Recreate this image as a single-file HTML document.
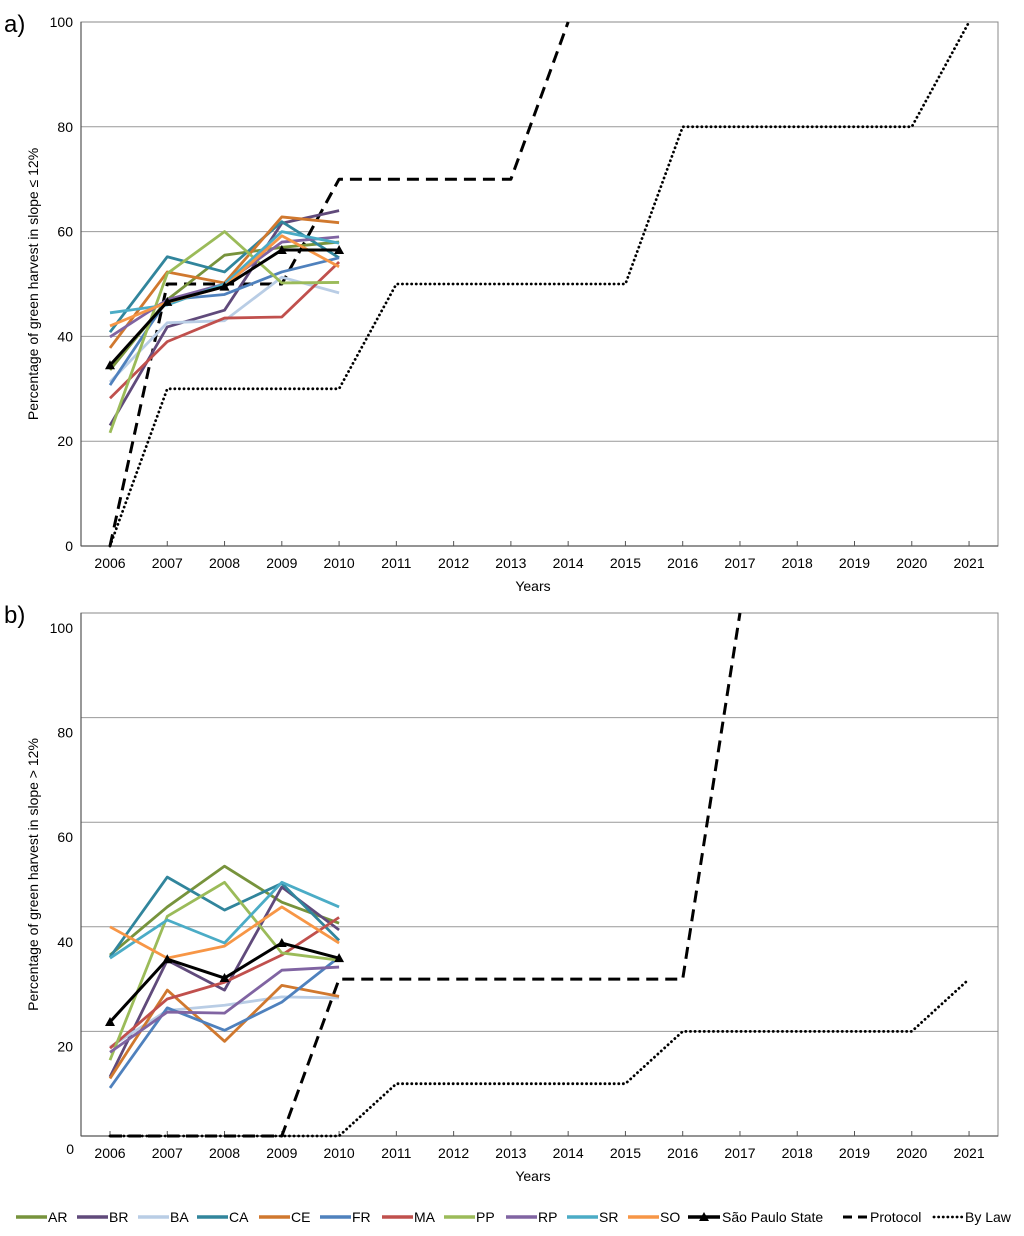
<!DOCTYPE html>
<html><head><meta charset="utf-8"><style>
html,body{margin:0;padding:0;background:#fff}
svg{display:block;font-family:"Liberation Sans",Arial,sans-serif}
</style></head><body>
<svg id="chart" width="1024" height="1236" viewBox="0 0 1024 1236"></svg>
<script>
const years=[2006,2007,2008,2009,2010,2011,2012,2013,2014,2015,2016,2017,2018,2019,2020,2021];
const regionYears=[2006,2007,2008,2009,2010];
const names=["AR","BR","BA","CA","CE","FR","MA","PP","RP","SR","SO"];
const colors=["#77933C","#604A7B","#B9CDE5","#31859C","#D0782E","#4F81BD","#C0504D","#9BBB59","#8064A2","#4BACC6","#F79646"];
const seriesA=[
[33.6,47,55.5,57,58],
[23,41.8,45,61.6,64],
[31.3,42.6,43,51.3,48.3],
[40.8,55.2,52.3,61.9,55],
[37.8,52.3,50.2,62.8,61.7],
[30.7,47,48,52.3,55],
[28.2,39,43.5,43.7,54.2],
[21.6,52,60,50.2,50.3],
[39.9,47,50,58,59],
[44.5,46,50,60,57.8],
[42,46.5,49.5,59.2,53.3]];
const spsA=[34.5,46.6,49.5,56.5,56.5];
const protocolA=[0,50,50,50,70,70,70,70,100];
const lawA=[0,30,30,30,30,50,50,50,50,50,80,80,80,80,80,100];
const seriesB=[
[34.6,43.8,51.6,44.7,40.7],
[11.3,33.6,27.9,47.6,39.4],
[17,24,25,26.6,26.4],
[34.2,49.5,43.2,48.3,37.4],
[11,27.9,18.1,28.8,26.7],
[9.2,24.5,20.2,25.6,34.2],
[16.8,26.2,29.4,34.6,41.8],
[14.5,42,48.5,35,33.6],
[16,23.7,23.5,31.7,32.3],
[34,41.3,36.9,48.5,43.8],
[40,34,36.3,43.8,36.9]];
const spsB=[21.8,33.8,30.2,36.9,34];
const protocolB=[0,0,0,0,30,30,30,30,30,30,30,100];
const lawB=[0,0,0,0,0,10,10,10,10,10,20,20,20,20,20,30];
const tickLabelsA=["0","20","40","60","80","100"];
const tickLabelsB=["0","20","40","60","80","100"];

const svg=document.getElementById('chart');
const NS="http://www.w3.org/2000/svg";
function mk(tag,attrs,parent){const e=document.createElementNS(NS,tag);for(const k in attrs)e.setAttribute(k,attrs[k]);(parent||svg).appendChild(e);return e;}
function txt(x,y,s,attrs,parent){const t=mk('text',Object.assign({x:x,y:y,'font-size':14,fill:'#000'},attrs||{}),parent);t.textContent=s;return t;}
const X0=81,X1=998;
function xs(i){return 110+i*57.27;}

function panel(top,bottom,key,series,sps,prot,law,tickLabels,labelOffset,ytitle){
  const g=mk('g',{});
  
  
  const ys=v=>bottom-(v/100)*(bottom-top);
  for(let k=1;k<=4;k++){const l=mk('line',{x1:X0,x2:X1,y1:ys(k*20),y2:ys(k*20),stroke:'#999','stroke-width':1},g);
    }
  const box=mk('rect',{x:X0,y:top,width:X1-X0,height:bottom-top,fill:'none',stroke:'#888','stroke-width':1},g);
  
  mk('line',{x1:X0,x2:X0,y1:top,y2:bottom,stroke:'#555','stroke-width':1.2},g);
  mk('line',{x1:X0,x2:X1,y1:bottom,y2:bottom,stroke:'#555','stroke-width':1.2},g);
  tickLabels.forEach((s,k)=>{
    let x=73,y=ys(k*20)+5+labelOffset;
    if(key==='b'&&k===0){x=74;y=bottom+18;}
    const t=txt(x,y,s,{'text-anchor':'end'},g);
    
  });
  years.forEach((yr,i)=>{
    mk('line',{x1:xs(i),x2:xs(i),y1:bottom,y2:bottom-5,stroke:'#555'},g);
    const t=txt(xs(i),bottom+22,String(yr),{'text-anchor':'middle'},g);
    
  });
  const xt=txt(533,bottom+45,'Years',{'text-anchor':'middle'},g);
  
  const cy=(top+bottom)/2;
  const yt=txt(38,cy,ytitle,{'text-anchor':'middle',transform:'rotate(-90 38 '+cy+')'},g);
  
  const pl=(vals,attrs)=>mk('polyline',Object.assign({points:vals.map((v,i)=>xs(i)+','+ys(v)).join(' '),fill:'none','stroke-linejoin':'round'},attrs),g);
  const lw=pl(law,{stroke:'#000','stroke-width':2.8,'stroke-dasharray':'0.1 4.5','stroke-linecap':'round'});
  
  const pr=pl(prot,{stroke:'#000','stroke-width':3,'stroke-dasharray':'12 7'});
  
  series.forEach((s,j)=>{const p=pl(s,{stroke:colors[j],'stroke-width':2.8});
    });
  const sp=pl(sps,{stroke:'#000','stroke-width':3});
  
  sps.forEach((v,i)=>{const x=xs(i),y=ys(v);
    const m=mk('polygon',{points:`${x},${y-5} ${x-5},${y+4} ${x+5},${y+4}`,fill:'#000'},g);
    });
  const lb=txt(4,top+10,key+')',{'font-size':24},g);
  
}
panel(22,546,'a',seriesA,spsA,protocolA,lawA,tickLabelsA,0,'Percentage of green harvest in slope ≤ 12%');
panel(613,1136,'b',seriesB,spsB,protocolB,lawB,tickLabelsB,15,'Percentage of green harvest in slope > 12%');

// legend
const lg=mk('g',{});


const legX=[16,77,138,197,259,320,382,444,506,567,628];
names.forEach((n,j)=>{
  const e=mk('g',{},lg);
  
  
  mk('line',{x1:legX[j],x2:legX[j]+31,y1:1217,y2:1217,stroke:colors[j],'stroke-width':3.5},e);
  txt(legX[j]+32,1222,n,{},e);
});
const e1=mk('g',{},lg);
mk('line',{x1:688,x2:720,y1:1217,y2:1217,stroke:'#000','stroke-width':3.5},e1);
mk('polygon',{points:'704,1212 699,1221 709,1221',fill:'#000'},e1);
txt(722,1222,'São Paulo State',{},e1);
const e2=mk('g',{},lg);
mk('line',{x1:843,x2:868,y1:1217,y2:1217,stroke:'#000','stroke-width':3,'stroke-dasharray':'9 6'},e2);
txt(870,1222,'Protocol',{},e2);
const e3=mk('g',{},lg);
mk('line',{x1:934,x2:962,y1:1217,y2:1217,stroke:'#000','stroke-width':2.8,'stroke-dasharray':'0.1 4.5','stroke-linecap':'round'},e3);
txt(965,1222,'By Law',{},e3);
</script>
</body></html>
